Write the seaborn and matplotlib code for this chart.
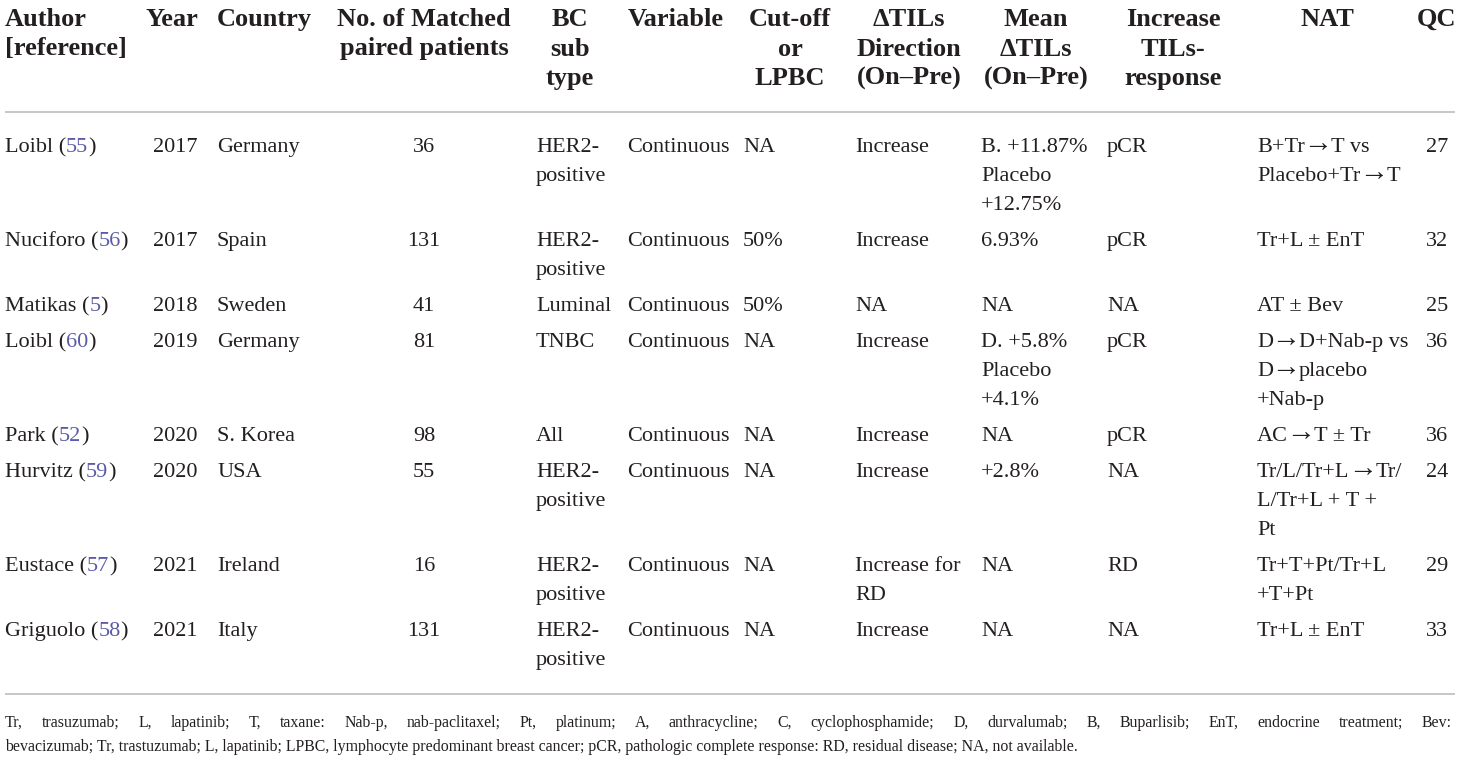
import matplotlib
matplotlib.use("Agg")
import matplotlib.pyplot as plt
import seaborn as sns

sns.set_theme(style="white")
plt.rcParams["font.family"] = ["Liberation Serif", "DejaVu Serif"]

# table content
headers = ["Author\n[reference]", "Year", "Country", "No. of Matched\npaired patients",
           "BC\nsub\ntype", "Variable", "Cut-off\nor\nLPBC", "\u0394TILs\nDirection\n(On\u2013Pre)",
           "Mean\n\u0394TILs\n(On\u2013Pre)", "Increase\nTILs-\nresponse", "NAT", "QC"]

authors = ["Loibl", "Nuciforo", "Matikas", "Loibl", "Park", "Hurvitz", "Eustace", "Griguolo"]
refs = ["55", "56", "5", "60", "52", "59", "57", "58"]
years = ["2017", "2017", "2018", "2019", "2020", "2020", "2021", "2021"]
countries = ["Germany", "Spain", "Sweden", "Germany", "S. Korea", "USA", "Ireland", "Italy"]
n_patients = ["36", "131", "41", "81", "98", "55", "16", "131"]
subtypes = ["HER2-\npositive", "HER2-\npositive", "Luminal", "TNBC", "All",
            "HER2-\npositive", "HER2-\npositive", "HER2-\npositive"]
variables = ["Continuous"] * 8
cutoffs = ["NA", "50%", "50%", "NA", "NA", "NA", "NA", "NA"]
directions = ["Increase", "Increase", "NA", "Increase", "Increase", "Increase",
              "Increase for\nRD", "Increase"]
mean_tils = ["B. +11.87%\nPlacebo\n+12.75%", "6.93%", "NA", "D. +5.8%\nPlacebo\n+4.1%",
             "NA", "+2.8%", "NA", "NA"]
responses = ["pCR", "pCR", "NA", "pCR", "pCR", "NA", "RD", "NA"]
nat = ["B+Tr\u2192T vs\nPlacebo+Tr\u2192T", "Tr+L \u00b1 EnT", "AT \u00b1 Bev",
       "D\u2192D+Nab-p vs\nD\u2192placebo\n+Nab-p", "AC\u2192T \u00b1 Tr",
       "Tr/L/Tr+L\u2192Tr/\nL/Tr+L + T +\nPt", "Tr+T+Pt/Tr+L\n+T+Pt", "Tr+L \u00b1 EnT"]
qc = ["27", "32", "25", "36", "36", "24", "29", "33"]

footnote1 = ("Tr, trasuzumab; L, lapatinib; T, taxane: Nab-p, nab-paclitaxel; Pt, platinum; "
             "A, anthracycline; C, cyclophosphamide; D, durvalumab; B, Buparlisib; "
             "EnT, endocrine treatment; Bev:")
footnote2 = ("bevacizumab; Tr, trastuzumab; L, lapatinib; LPBC, lymphocyte predominant breast "
             "cancer; pCR, pathologic complete response: RD, residual disease; NA, not available.")

# layout (pixels)
ink = "#231f20"
ref_col = "#5b5ba8"
rule_col = "#bdbdbd"
head_fs = 19
body_fs = 16
foot_fs = 11.4

head_x = [(5, "left"), (172, "center"), (217, "left"), (424, "center"), (570, "center"),
          (628, "left"), (790, "center"), (909, "center"), (1036, "center"),
          (1173, "center"), (1327, "center"), (1436, "center")]
body_x = [(5, "left"), (153, "left"), (217, "left"), (424, "center"), (536, "left"),
          (627, "left"), (743, "left"), (855, "left"), (981, "left"), (1107, "left"),
          (1257, "left"), (1426, "left")]

fig = plt.figure(figsize=(14.6, 7.6), dpi=100)
ax = fig.add_axes([0, 0, 1, 1])
ax.set_xlim(0, 1460)
ax.set_ylim(760, 0)
ax.axis("off")
renderer = fig.canvas.get_renderer()


def run(x, y, pieces, fs):
    # draw (text, colour) pieces one after another from x
    for piece, col in pieces:
        if piece == "\u2192":
            t = ax.text(x - 1.5, y - 0.5, piece, ha="left", va="baseline", fontsize=fs * 1.3,
                        color=col, fontweight="light")
            x = t.get_window_extent(renderer).x1 - 1.5
        else:
            t = ax.text(x, y, piece, ha="left", va="baseline", fontsize=fs, color=col)
            x = t.get_window_extent(renderer).x1


def put(x, y, s, ha, fs, weight="normal", step=29):
    for i, line in enumerate(s.split("\n")):
        yy = y + i * step
        if "\u2192" in line:
            parts = line.split("\u2192")
            pieces = []
            for k, p in enumerate(parts):
                if k:
                    pieces.append(("\u2192", ink))
                if p:
                    pieces.append((p, ink))
            run(x, yy, pieces, fs)
        else:
            ax.text(x, yy, line, ha=ha, va="baseline", fontsize=fs,
                    fontweight=weight, color=ink)


# header
for (x, ha), h in zip(head_x, headers):
    put(x, 26, h, ha, head_fs, weight="bold", step=29.5)

ax.hlines([112, 694], 5, 1455, color=rule_col, linewidth=1.2)

# body rows
columns = [years, countries, n_patients, subtypes, variables, cutoffs, directions,
           mean_tils, responses, nat, qc]
y = 152
for r in range(len(authors)):
    cells = [c[r] for c in columns]
    nlines = max(s.count("\n") + 1 for s in cells)
    run(5, y, [(authors[r] + " (", ink), (refs[r], ref_col), (")", ink)], body_fs)
    for (cx, ha), s in zip(body_x[1:], cells):
        put(cx, y, s, ha, body_fs)
    y += 29 * nlines + 7

# footnote: first line justified, second left aligned
words = footnote1.split(" ")
texts = [ax.text(0, 727, w, ha="left", va="baseline", fontsize=foot_fs, color=ink) for w in words]
widths = [t.get_window_extent(renderer).width for t in texts]
gap = (1452 - 5 - sum(widths)) / (len(words) - 1)
x = 5
for t, w in zip(texts, widths):
    t.set_x(x)
    x += w + gap
ax.text(5, 751, footnote2, ha="left", va="baseline", fontsize=foot_fs, color=ink)

fig.savefig("out.png", dpi=100)
